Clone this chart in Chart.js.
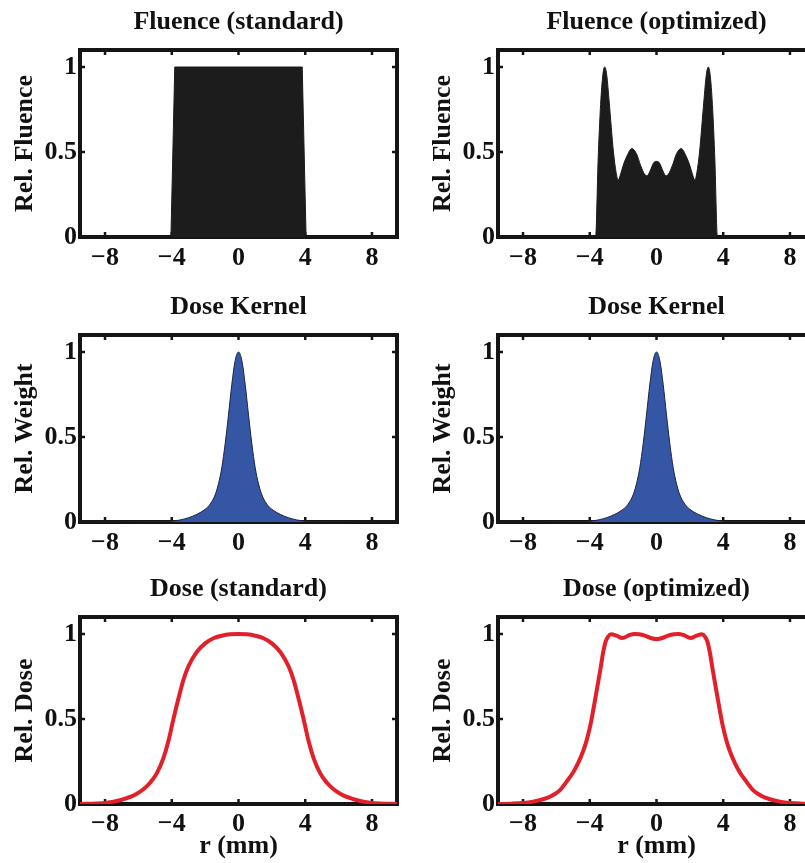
<!DOCTYPE html>
<html>
<head>
<meta charset="utf-8">
<title>Fluence / Dose</title>
<script src="https://cdn.jsdelivr.net/npm/chart.js@4/dist/chart.umd.min.js"></script>
<style>
    html, body { margin: 0; padding: 0; background: #fff; overflow: hidden; width: 805px; height: 863px; }
    canvas { position: absolute; }
</style>
</head>
<body>
<canvas id="fluStd" width="410" height="283" style="left:0;top:0"></canvas>
<canvas id="fluOpt" width="410" height="283" style="left:418px;top:0"></canvas>
<canvas id="kerStd" width="410" height="283" style="left:0;top:285px"></canvas>
<canvas id="kerOpt" width="410" height="283" style="left:418px;top:285px"></canvas>
<canvas id="doseStd" width="410" height="296" style="left:0;top:567px"></canvas>
<canvas id="doseOpt" width="410" height="296" style="left:418px;top:567px"></canvas>
<script>
// axis ticks
const xTicks = [-8, -4, 0, 4, 8];
const xTickLabels = ['\u22128', '\u22124', '0', '4', '8'];
const yTicks = [0, 0.5, 1];
const yTickLabels = ['0', '0.5', '1'];

// standard fluence (flat field)
const rFluenceStd = [-9.5, -4.05, -3.82, 3.82, 4.05, 9.5];
const fluenceStd = [0, 0, 1, 1, 0, 0];

// optimized fluence
const rFluenceOpt = [-9.5, -3.65, -3.5, -3.35, -3.22, -3.1, -2.98, -2.84, -2.58, -2.42, -2.3, -2.15, -2.0, -1.8, -1.48, -1.2, -0.95, -0.72, -0.56, -0.38, -0.18, 0,
    0.18, 0.38, 0.56, 0.72, 0.95, 1.2, 1.48, 1.8, 2.0, 2.15, 2.3, 2.42, 2.58, 2.84, 2.98, 3.1, 3.22, 3.35, 3.5, 3.65, 9.5];
const fluenceOpt = [0, 0, 0.45, 0.78, 0.95, 1.0, 0.95, 0.8, 0.5, 0.38, 0.335, 0.37, 0.42, 0.47, 0.52, 0.49, 0.42, 0.37, 0.36, 0.39, 0.435, 0.445,
    0.435, 0.39, 0.36, 0.37, 0.42, 0.49, 0.52, 0.47, 0.42, 0.37, 0.335, 0.38, 0.5, 0.8, 0.95, 1.0, 0.95, 0.78, 0.45, 0, 0];

// dose kernel
const rKernel = [-9.5, -5, -4, -3.5, -3, -2.5, -2, -1.7, -1.4, -1.2, -1, -0.8, -0.6, -0.4, -0.2, 0,
    0.2, 0.4, 0.6, 0.8, 1, 1.2, 1.4, 1.7, 2, 2.5, 3, 3.5, 4, 5, 9.5];
const kernel = [0, 0.001, 0.005, 0.012, 0.025, 0.045, 0.075, 0.105, 0.16, 0.225, 0.32, 0.46, 0.63, 0.81, 0.95, 1,
    0.95, 0.81, 0.63, 0.46, 0.32, 0.225, 0.16, 0.105, 0.075, 0.045, 0.025, 0.012, 0.005, 0.001, 0];

// dose from the standard fluence
const rDoseStd = [-9.5, -8.5, -7.9, -7.3, -6.7, -6.2, -5.7, -5.3, -4.9, -4.5, -4.2, -3.9, -3.6, -3.3, -3.0, -2.5, -2.0, -1.5, -1.0, -0.5, 0,
    0.5, 1.0, 1.5, 2.0, 2.5, 3.0, 3.3, 3.6, 3.9, 4.2, 4.5, 4.9, 5.3, 5.7, 6.2, 6.7, 7.3, 7.9, 8.5, 9.5];
const doseStd = [0, 0.003, 0.008, 0.018, 0.035, 0.055, 0.087, 0.125, 0.18, 0.27, 0.37, 0.5, 0.62, 0.73, 0.81, 0.895, 0.945, 0.975, 0.99, 0.998, 1,
    0.998, 0.99, 0.975, 0.945, 0.895, 0.81, 0.73, 0.62, 0.5, 0.37, 0.27, 0.18, 0.125, 0.087, 0.055, 0.035, 0.018, 0.008, 0.003, 0];

// dose from the optimized fluence
const rDoseOpt = [-9.5, -8.7, -8.0, -7.4, -6.8, -6.3, -5.8, -5.4, -5.0, -4.7, -4.4, -4.2, -3.95, -3.67, -3.5, -3.35, -3.2, -3.05, -2.9, -2.72, -2.4, -2.05, -1.6, -1.3, -1.05, -0.7, -0.3, 0,
    0.3, 0.7, 1.05, 1.3, 1.6, 2.05, 2.4, 2.72, 2.9, 3.05, 3.2, 3.35, 3.5, 3.67, 3.95, 4.2, 4.4, 4.7, 5.0, 5.4, 5.8, 6.3, 6.8, 7.4, 8.0, 8.7, 9.5];
const doseOpt = [0, 0.002, 0.006, 0.014, 0.028, 0.047, 0.08, 0.13, 0.185, 0.24, 0.31, 0.37, 0.47, 0.62, 0.715, 0.8, 0.89, 0.955, 0.985, 0.998, 0.99, 0.976, 0.995, 1.0, 0.998, 0.99, 0.975, 0.97,
    0.975, 0.99, 0.998, 1.0, 0.995, 0.976, 0.99, 0.998, 0.985, 0.955, 0.89, 0.8, 0.715, 0.62, 0.47, 0.37, 0.31, 0.24, 0.185, 0.13, 0.08, 0.047, 0.028, 0.014, 0.006, 0.002, 0];

const serif = "'Liberation Serif', 'Times New Roman', serif";
const fuente = { family: serif, weight: 'bold', size: 26, lineHeight: 1.2 };

// frame with inward tick marks, drawn under the data
const marco = {
    id: 'marco',
    beforeDatasetsDraw(chart) {
        const { ctx, chartArea: a, scales: { x, y } } = chart;
        ctx.save();
        ctx.strokeStyle = '#151515';
        ctx.lineWidth = 2.5;
        ctx.beginPath();
        xTicks.forEach(v => {
            const px = x.getPixelForValue(v);
            ctx.moveTo(px, a.top); ctx.lineTo(px, a.top + 5);
            ctx.moveTo(px, a.bottom); ctx.lineTo(px, a.bottom - 5);
        });
        yTicks.forEach(v => {
            const py = y.getPixelForValue(v);
            ctx.moveTo(a.left, py); ctx.lineTo(a.left + 5, py);
            ctx.moveTo(a.right, py); ctx.lineTo(a.right - 5, py);
        });
        ctx.stroke();
        ctx.lineWidth = 4;
        ctx.strokeRect(a.left, a.top, a.right - a.left, a.bottom - a.top);
        ctx.restore();
    }
};

function panel(id, p) {
    const ctx = document.getElementById(id).getContext('2d');
    const puntos = p.r.map((r, i) => ({ x: r, y: p.v[i] }));
    new Chart(ctx, {
        type: 'line',
        data: {
            datasets: [{
                data: puntos,
                borderColor: p.line,
                borderWidth: p.width,
                backgroundColor: p.fill || 'transparent',
                fill: p.fill ? 'origin' : false,
                pointRadius: 0,
                cubicInterpolationMode: p.smooth ? 'monotone' : 'default',
                tension: 0
            }]
        },
        options: {
            responsive: false,
            animation: false,
            events: [],
            layout: { padding: { left: 0, right: 13, top: 0, bottom: 0 } },
            plugins: {
                legend: { display: false },
                tooltip: { enabled: false }
            },
            scales: {
                x: {
                    type: 'linear', min: -9.5, max: 9.5,
                    grid: { display: false, drawTicks: false },
                    border: { display: false },
                    ticks: {
                        font: fuente, color: '#111', padding: p.xTitle ? 5 : 6, maxRotation: 0,
                        callback: v => xTickLabels[xTicks.indexOf(v)]
                    },
                    afterBuildTicks: s => { s.ticks = xTicks.map(v => ({ value: v })); },
                    afterFit: s => { s.height = p.xTitle ? 59 : 46; },
                    title: {
                        display: !!p.xTitle, text: p.xTitle || '',
                        font: fuente, color: '#111', padding: { top: 0, bottom: 1 }
                    }
                },
                // top axis only carries the panel title, centred over the plot box
                x2: {
                    type: 'linear', position: 'top', min: -9.5, max: 9.5,
                    grid: { display: false, drawTicks: false },
                    border: { display: false },
                    ticks: { display: false },
                    afterFit: s => { s.height = 50; },
                    title: {
                        display: true, text: p.title,
                        font: fuente, color: '#111', padding: { top: 6.5, bottom: 0 }
                    }
                },
                y: {
                    type: 'linear', min: 0, max: 1.1,
                    grid: { display: false, drawTicks: false },
                    border: { display: false },
                    ticks: {
                        font: fuente, color: '#111', padding: 3,
                        callback: v => yTickLabels[yTicks.indexOf(v)]
                    },
                    afterBuildTicks: s => { s.ticks = yTicks.map(v => ({ value: v })); },
                    afterFit: s => { s.width = 80; },
                    title: {
                        display: true, text: p.yTitle,
                        font: fuente, color: '#111', padding: { top: 10, bottom: 0 }
                    }
                }
            }
        },
        plugins: [marco]
    });
}

document.addEventListener('DOMContentLoaded', () => {
    const negro = '#1c1c1c';
    const azul = '#3555a5';
    const rojo = '#e2202a';

    panel('fluStd', { title: 'Fluence (standard)', yTitle: 'Rel. Fluence', r: rFluenceStd, v: fluenceStd, fill: negro, line: negro, width: 1, smooth: false });
    panel('fluOpt', { title: 'Fluence (optimized)', yTitle: 'Rel. Fluence', r: rFluenceOpt, v: fluenceOpt, fill: negro, line: negro, width: 1, smooth: true });
    panel('kerStd', { title: 'Dose Kernel', yTitle: 'Rel. Weight', r: rKernel, v: kernel, fill: azul, line: '#1a2445', width: 1, smooth: true });
    panel('kerOpt', { title: 'Dose Kernel', yTitle: 'Rel. Weight', r: rKernel, v: kernel, fill: azul, line: '#1a2445', width: 1, smooth: true });
    panel('doseStd', { title: 'Dose (standard)', yTitle: 'Rel. Dose', xTitle: 'r (mm)', r: rDoseStd, v: doseStd, line: rojo, width: 4, smooth: true });
    panel('doseOpt', { title: 'Dose (optimized)', yTitle: 'Rel. Dose', xTitle: 'r (mm)', r: rDoseOpt, v: doseOpt, line: rojo, width: 4, smooth: true });
});
</script>
</body>
</html>
